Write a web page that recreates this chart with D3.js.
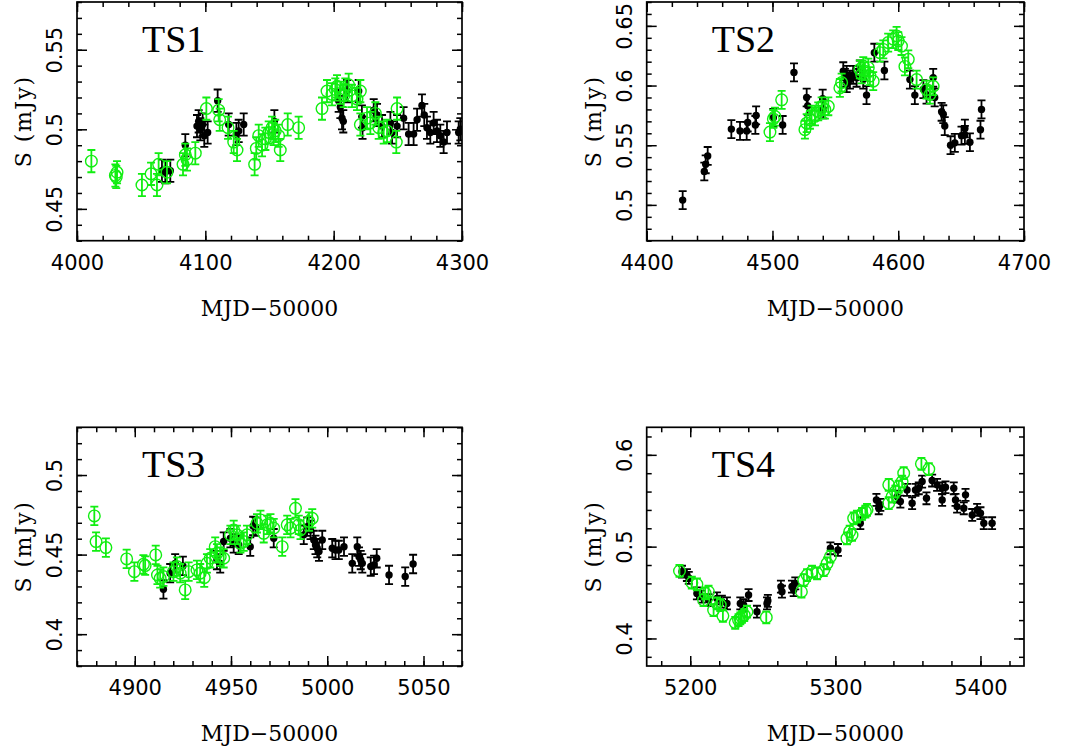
<!DOCTYPE html>
<html>
<head>
<meta charset="utf-8">
<script src="https://cdn.jsdelivr.net/npm/d3@7"></script>
<style>
  body { margin:0; background:#fff; }
  svg { display:block; }
  .tick text { font-family:"DejaVu Sans", sans-serif; font-size:21px; fill:#000; }
</style>
</head>
<body>
<svg id="chart" width="1074" height="753"></svg>
<script>
// data: [MJD-50000, S (mJy)]
const ts1Black = [[4066.2,0.474],[4068.8,0.473],[4072.7,0.474],[4084.4,0.490],[4093.5,0.502],[4094.8,0.505],[4096.1,0.500],[4097.9,0.503],[4099.2,0.496],[4101.8,0.498],[4109.6,0.518],[4118.2,0.503],[4124.2,0.497],[4126,0.499],[4129.9,0.503],[4153.8,0.505],[4203.9,0.518],[4205.2,0.514],[4206.5,0.507],[4207.5,0.505],[4210.4,0.524],[4219.5,0.524],[4222,0.508],[4222.5,0.501],[4231.2,0.512],[4233.8,0.509],[4237.7,0.502],[4244.2,0.504],[4245.5,0.498],[4249.4,0.502],[4254.5,0.507],[4258.4,0.497],[4262.3,0.497],[4265,0.506],[4268.8,0.515],[4270.6,0.509],[4272.7,0.501],[4275.3,0.498],[4277.9,0.504],[4280.5,0.499],[4283.1,0.496],[4285.7,0.492],[4288.3,0.498],[4297.4,0.498],[4298.7,0.500]];
const ts1Green = [[4011.2,0.480],[4029.9,0.471],[4031.2,0.473],[4030.6,0.470],[4050.6,0.465],[4057.7,0.472],[4062.3,0.465],[4063.6,0.478],[4070.1,0.473],[4082.6,0.478],[4084.4,0.484],[4085.7,0.481],[4092.2,0.485],[4100.8,0.513],[4110.4,0.512],[4111.2,0.506],[4117.7,0.501],[4122.1,0.492],[4124.7,0.487],[4138.4,0.478],[4139.7,0.488],[4141.6,0.496],[4144.2,0.490],[4146.8,0.494],[4149.4,0.498],[4152,0.501],[4153.2,0.497],[4154.5,0.499],[4157.1,0.496],[4158.4,0.487],[4164.2,0.503],[4172.7,0.501],[4190.9,0.513],[4194.8,0.524],[4198.7,0.522],[4201.3,0.525],[4202.6,0.527],[4205.2,0.523],[4207.8,0.521],[4209.1,0.525],[4211.7,0.528],[4214.3,0.521],[4218.2,0.519],[4220.8,0.524],[4220.8,0.503],[4226,0.507],[4228.6,0.504],[4232.5,0.510],[4235.1,0.501],[4239,0.498],[4241.6,0.499],[4249.4,0.513],[4248.8,0.492]];

const ts2Black = [[4428.6,0.504],[4445.8,0.528],[4446.9,0.534],[4448.5,0.541],[4467.3,0.5635],[4474.2,0.562],[4479.5,0.562],[4480.3,0.569],[4486.4,0.567],[4487,0.575],[4500.7,0.573],[4508.1,0.567],[4517.1,0.611],[4527.2,0.590],[4528,0.583],[4539.9,0.589],[4540.4,0.580],[4556.3,0.612],[4557.6,0.6065],[4559,0.609],[4559,0.602],[4561.6,0.605],[4564.2,0.609],[4566.9,0.6065],[4569.5,0.6135],[4572.2,0.605],[4574.8,0.592],[4581,0.6275],[4589,0.6126],[4609.3,0.605],[4613.2,0.592],[4620,0.597],[4622.5,0.5924],[4627.8,0.6065],[4629,0.590],[4634.5,0.578],[4635.8,0.576],[4637,0.566],[4641.6,0.550],[4645,0.552],[4650.3,0.558],[4653,0.564],[4653,0.5587],[4657,0.5525],[4665.4,0.563],[4666.2,0.580]];
const ts2Green = [[4498,0.561],[4500.7,0.572],[4502,0.574],[4507.3,0.588],[4525.8,0.563],[4527.2,0.5685],[4529.8,0.5713],[4531.1,0.5756],[4533.8,0.5742],[4536.4,0.5784],[4539.1,0.5826],[4541.7,0.5798],[4544.4,0.5826],[4553.6,0.598],[4555,0.6025],[4569.5,0.6135],[4570.9,0.6093],[4572.2,0.6163],[4573.5,0.612],[4576.2,0.615],[4577.5,0.6079],[4580.1,0.6037],[4585.4,0.6275],[4588.1,0.6303],[4592,0.636],[4596,0.6388],[4598.7,0.6416],[4600,0.6373],[4602.6,0.6331],[4605.3,0.616],[4608,0.622],[4614.6,0.605],[4622.5,0.5966],[4625.2,0.5924],[4627.8,0.5994]];

const ts3Black = [[4914.9,0.4282],[4918.4,0.4383],[4921,0.4445],[4925,0.4429],[4942.7,0.4466],[4944.4,0.4445],[4946.2,0.4582],[4949.7,0.4603],[4951.4,0.4571],[4954,0.4561],[4960,0.455],[4961.5,0.468],[4962.7,0.4676],[4972.2,0.4603],[4987.8,0.4624],[4989.6,0.4676],[4991.3,0.4655],[4993,0.4592],[4993.9,0.4561],[4994.8,0.454],[4995.7,0.4519],[4997.4,0.4592],[5002.6,0.454],[5004.3,0.4529],[5006,0.4529],[5008.7,0.455],[5013,0.4445],[5015.6,0.455],[5016.5,0.4487],[5017.4,0.4466],[5018.2,0.4445],[5022.6,0.4425],[5024.3,0.4435],[5025.7,0.4477],[5032.1,0.4372],[5040.5,0.4362],[5044.6,0.4441]];
const ts3Green = [[4879,0.4743],[4879.9,0.4582],[4885,0.4544],[4895.8,0.4473],[4899.8,0.4393],[4904.5,0.4439],[4905.4,0.4431],[4910.9,0.4498],[4911.8,0.4372],[4913.2,0.4351],[4914.9,0.4362],[4920.1,0.4393],[4921.9,0.4425],[4923.6,0.4383],[4926.2,0.4278],[4928,0.4393],[4932.3,0.4404],[4934,0.4383],[4936.1,0.4355],[4937.5,0.4445],[4939.2,0.4477],[4941.8,0.455],[4942.7,0.4508],[4944.4,0.4487],[4946.2,0.4477],[4949.7,0.4624],[4951.4,0.4655],[4953.1,0.4624],[4954.9,0.4571],[4956.6,0.4582],[4958.3,0.4624],[4963.5,0.4697],[4965.3,0.4718],[4967,0.4634],[4968.8,0.4687],[4970.5,0.4697],[4972.2,0.4666],[4976.6,0.455],[4979.2,0.4687],[4980.9,0.4666],[4983.5,0.4791],[4985.2,0.4687],[4986.1,0.4655],[4990.5,0.4708],[4992.2,0.4728]];

const ts4Black = [[5194.3,0.4727],[5197.7,0.4691],[5199,0.466],[5204.6,0.4491],[5208,0.4455],[5212.6,0.4418],[5218.4,0.4436],[5221.8,0.44],[5225.3,0.4382],[5234.5,0.4382],[5236.8,0.4364],[5240.2,0.4473],[5246,0.4291],[5252.9,0.4382],[5253.5,0.441],[5262.5,0.4564],[5263.2,0.4509],[5270.1,0.4564],[5271.3,0.4527],[5272.4,0.46],[5296.6,0.4982],[5301.8,0.4964],[5317.2,0.5255],[5328.3,0.5509],[5329.9,0.5418],[5331,0.5455],[5342.5,0.5545],[5344.8,0.5491],[5349.4,0.5618],[5352.9,0.5473],[5355.2,0.5618],[5357.5,0.5636],[5359.8,0.5709],[5362.8,0.5527],[5366.7,0.572],[5370.1,0.5673],[5373.6,0.5636],[5373.6,0.5509],[5375.9,0.5647],[5381.6,0.5636],[5382.8,0.5509],[5383.9,0.5436],[5388.5,0.5418],[5389.7,0.5564],[5394.3,0.5345],[5397.7,0.54],[5400,0.5364],[5402.3,0.5255],[5408,0.5255]];
const ts4Green = [[5192.6,0.4735],[5201.1,0.4607],[5204.6,0.4589],[5210.3,0.4491],[5212.6,0.4509],[5209.2,0.4418],[5216.1,0.4309],[5218.4,0.4382],[5220.7,0.4364],[5222.5,0.4247],[5231,0.4171],[5233.3,0.42],[5234.5,0.4218],[5235.6,0.4236],[5237.2,0.4255],[5239.1,0.4291],[5252.4,0.4229],[5276.6,0.4509],[5278.2,0.4636],[5280.5,0.4691],[5283.9,0.4727],[5287.4,0.4709],[5292,0.4745],[5294.3,0.4818],[5296.6,0.4891],[5308,0.5091],[5309.9,0.5164],[5311.5,0.5127],[5312.6,0.5309],[5314.9,0.5327],[5318.4,0.5356],[5320.7,0.5382],[5321.8,0.54],[5336.8,0.5473],[5336.8,0.5673],[5339.1,0.5545],[5341.4,0.56],[5343.7,0.5655],[5346,0.5709],[5347.1,0.58],[5359.3,0.5902],[5364.4,0.5844]];

// 1-sigma errors (mJy)
const ts1Err = 0.007, ts2Err = 0.0075, ts3Err = 0.0058, ts4Err = 0.0065;

const panels = [
  {name:"TS1", black:ts1Black, green:ts1Green, err:ts1Err, xDom:[4000,4300], yDom:[0.43,0.58], xMaj:100, xMin:20, yMaj:0.05, yMin:0.01, box:[77,2,462,240.7]},
  {name:"TS2", black:ts2Black, green:ts2Green, err:ts2Err, xDom:[4400,4700], yDom:[0.47,0.67], xMaj:100, xMin:20, yMaj:0.05, yMin:0.01, box:[646.7,2,1024,240.7]},
  {name:"TS3", black:ts3Black, green:ts3Green, err:ts3Err, xDom:[4870,5070], yDom:[0.38,0.53], xMaj:50, xMin:10, yMaj:0.05, yMin:0.01, box:[77,427.3,462,666]},
  {name:"TS4", black:ts4Black, green:ts4Green, err:ts4Err, xDom:[5170,5430], yDom:[0.37,0.63], xMaj:100, xMin:20, yMaj:0.1, yMin:0.02, box:[646.7,427.3,1024,666]}
];

const GREEN = "#11ee11";
const svg = d3.select("#chart");

function steps(dom, step){
  const out=[]; const s=Math.ceil(dom[0]/step - 1e-9), e=Math.floor(dom[1]/step + 1e-9);
  for(let i=s;i<=e;i++) out.push(+(i*step).toFixed(6));
  return out;
}
const fmtY = v => String(+v.toFixed(3));

panels.forEach(p=>{
  const [x0,y0,x1,y1] = p.box, w=x1-x0, h=y1-y0;
  const g = svg.append("g").attr("transform",`translate(${x0},${y0})`);
  const x = d3.scaleLinear().domain(p.xDom).range([0,w]);
  const y = d3.scaleLinear().domain(p.yDom).range([h,0]);
  const xMaj = steps(p.xDom,p.xMaj), xMin = steps(p.xDom,p.xMin);
  const yMaj = steps(p.yDom,p.yMaj), yMin = steps(p.yDom,p.yMin);

  // ticks on all four sides, pointing inward
  const sides = [
    [()=>d3.axisBottom(x), `translate(0,${h})`, xMaj, xMin, d=>String(d)],
    [()=>d3.axisTop(x), null, xMaj, xMin, null],
    [()=>d3.axisLeft(y), null, yMaj, yMin, fmtY],
    [()=>d3.axisRight(y), `translate(${w},0)`, yMaj, yMin, null]
  ];
  sides.forEach(([make,tr,maj,min,lab],i)=>{
    const a1 = g.append("g").call(make().tickValues(min).tickSize(-5).tickSizeOuter(0).tickFormat(""));
    const a2 = g.append("g").call(make().tickValues(maj).tickSize(-10).tickSizeOuter(0).tickFormat(lab||""));
    [a1,a2].forEach(a=>{ if(tr) a.attr("transform",tr); a.select(".domain").remove(); a.selectAll("line").attr("stroke","#000").attr("stroke-width",1.5); });
    if(i===0) a2.selectAll("text").attr("y",29).attr("dy",0);
    if(i===2) a2.selectAll("text").attr("text-anchor","middle").attr("transform","rotate(-90)").attr("x",0).attr("y",-15).attr("dy",0);
  });

  g.append("rect").attr("width",w).attr("height",h).attr("fill","none").attr("stroke","#000").attr("stroke-width",1.7);

  const clip = "clip-"+p.name;
  g.append("clipPath").attr("id",clip).append("rect").attr("width",w).attr("height",h);
  const plot = g.append("g").attr("clip-path",`url(#${clip})`);

  function series(data, col, filled){
    const s = plot.append("g");
    data.forEach(d=>{
      const cx=x(d[0]), cy=y(d[1]), ya=y(d[1]+p.err), yb=y(d[1]-p.err);
      s.append("path").attr("d",`M${cx},${ya}V${yb}M${cx-4},${ya}H${cx+4}M${cx-4},${yb}H${cx+4}`)
        .attr("stroke",col).attr("stroke-width",1.8).attr("fill","none");
      if(filled) s.append("circle").attr("cx",cx).attr("cy",cy).attr("r",3.7).attr("fill",col);
      else s.append("circle").attr("cx",cx).attr("cy",cy).attr("r",5.8).attr("fill","none").attr("stroke",col).attr("stroke-width",1.4);
    });
  }
  series(p.black,"#000",true);
  series(p.green,GREEN,false);

  g.append("text").attr("x",65).attr("y",50).text(p.name)
    .attr("font-family","'Liberation Serif', serif").attr("font-size",38);
  g.append("text").attr("x",w/2).attr("y",h+75).attr("text-anchor","middle").text("MJD\u221250000")
    .attr("font-family","'DejaVu Serif', serif").attr("font-size",22);
  g.append("text").attr("transform",`translate(-46,${h/2}) rotate(-90)`).attr("text-anchor","middle").text("S (mJy)")
    .attr("font-family","'DejaVu Serif', serif").attr("font-size",22).attr("letter-spacing",1.5);
});
</script>
</body>
</html>
